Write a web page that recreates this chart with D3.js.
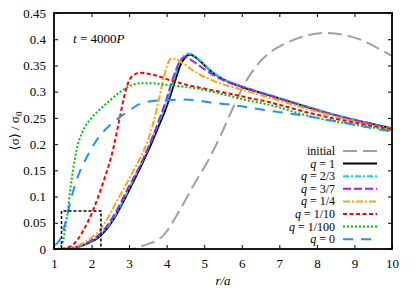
<!DOCTYPE html>
<html>
<head>
<meta charset="utf-8">
<script src="https://cdn.jsdelivr.net/npm/d3@7"></script>
<style>
  body { margin: 0; background: #fff; }
  svg text { font-family: "Liberation Serif", "Times New Roman", "DejaVu Serif", serif; }
</style>
</head>
<body>
<script>
// values: [r/a, <sigma>/sigma0]
var initial = [[2.8, 0], [3.0, 0.0], [3.4, 0.007], [3.9, 0.025], [4.35, 0.074], [4.75, 0.126],
  [5.07, 0.164], [5.42, 0.214], [5.74, 0.265], [6.09, 0.317], [6.4, 0.35], [6.7, 0.372],
  [7.0, 0.386], [7.5, 0.402], [8.2, 0.412], [8.8, 0.407], [9.2, 0.398], [9.7, 0.38], [10, 0.368]];

var q1 = [[1.3, 0], [1.6, 0.003], [1.8, 0.008], [2.0, 0.014], [2.2, 0.023], [2.4, 0.038],
  [2.6, 0.058], [2.8, 0.084], [3.0, 0.112], [3.25, 0.148], [3.5, 0.186], [3.75, 0.228],
  [4.0, 0.272], [4.2, 0.315], [4.35, 0.348], [4.5, 0.366], [4.62, 0.371], [4.8, 0.364],
  [5.0, 0.351], [5.2, 0.338], [5.4, 0.328], [5.7, 0.317], [6.0, 0.309], [6.5, 0.298],
  [7.0, 0.287], [7.5, 0.276], [8.0, 0.265], [8.5, 0.255], [9.0, 0.246], [9.5, 0.238], [10, 0.23]];

var q23 = [[1.3, 0], [1.6, 0.003], [1.8, 0.008], [2.0, 0.015], [2.2, 0.025], [2.4, 0.04],
  [2.6, 0.061], [2.8, 0.087], [3.0, 0.116], [3.25, 0.152], [3.5, 0.191], [3.75, 0.234],
  [4.0, 0.28], [4.18, 0.32], [4.32, 0.352], [4.46, 0.368], [4.58, 0.373], [4.8, 0.365],
  [5.0, 0.352], [5.2, 0.339], [5.4, 0.329], [5.7, 0.318], [6.0, 0.31], [6.5, 0.299],
  [7.0, 0.288], [7.5, 0.277], [8.0, 0.266], [8.5, 0.256], [9.0, 0.247], [9.5, 0.238], [10, 0.23]];

var q37 = [[1.3, 0], [1.6, 0.004], [1.8, 0.009], [2.0, 0.017], [2.3, 0.034], [2.6, 0.065],
  [3.0, 0.12], [3.25, 0.153], [3.5, 0.192], [3.75, 0.237], [4.0, 0.287], [4.2, 0.332],
  [4.35, 0.358], [4.49, 0.366], [4.7, 0.358], [4.9, 0.348], [5.15, 0.336], [5.5, 0.322],
  [5.95, 0.311], [6.5, 0.298], [7.0, 0.287], [7.5, 0.276], [8.0, 0.265], [9.0, 0.246], [10, 0.229]];

var q14 = [[1.3, 0], [1.6, 0.005], [1.8, 0.012], [2.0, 0.022], [2.22, 0.036], [2.44, 0.06],
  [2.7, 0.095], [2.9, 0.12], [3.1, 0.147], [3.3, 0.174], [3.5, 0.207], [3.65, 0.242],
  [3.8, 0.287], [3.92, 0.326], [4.02, 0.352], [4.12, 0.363], [4.22, 0.363], [4.43, 0.354],
  [4.8, 0.336], [5.34, 0.318], [5.95, 0.305], [6.67, 0.29], [7.0, 0.283], [8.0, 0.262],
  [9.0, 0.243], [10, 0.228]];

var q110 = [[1.2, 0], [1.5, 0.008], [1.77, 0.034], [2.04, 0.074], [2.3, 0.125], [2.57, 0.189],
  [2.75, 0.25], [2.9, 0.3], [3.05, 0.327], [3.29, 0.336], [3.6, 0.333], [4.17, 0.32],
  [4.6, 0.312], [5.0, 0.306], [5.69, 0.296], [6.2, 0.288], [6.67, 0.281], [7.0, 0.275],
  [7.5, 0.265], [8.0, 0.256], [9.0, 0.241], [10, 0.228]];

var q1100 = [[1.1, 0], [1.2, 0.007], [1.25, 0.018], [1.3, 0.04], [1.37, 0.074], [1.43, 0.112],
  [1.5, 0.147], [1.6, 0.189], [1.75, 0.222], [2.0, 0.25], [2.25, 0.268], [2.5, 0.284],
  [2.75, 0.299], [3.02, 0.311], [3.3, 0.316], [3.6, 0.316], [4.0, 0.313], [4.8, 0.306],
  [5.5, 0.295], [6.0, 0.286], [6.67, 0.276], [7.0, 0.27], [7.55, 0.258], [8.0, 0.25],
  [9.0, 0.237], [10, 0.226]];

var q0 = [[1.0, 0.007], [1.1, 0.012], [1.2, 0.025], [1.3, 0.05], [1.43, 0.088], [1.55, 0.12],
  [1.7, 0.15], [1.85, 0.172], [2.0, 0.192], [2.2, 0.214], [2.5, 0.237], [2.8, 0.254],
  [3.02, 0.265], [3.3, 0.277], [3.9, 0.284], [4.5, 0.285], [5.2, 0.279], [5.6, 0.276],
  [6.0, 0.272], [6.6, 0.265], [7.0, 0.261], [7.5, 0.256], [8.0, 0.25], [8.5, 0.244],
  [9.0, 0.237], [9.5, 0.23], [10, 0.224]];

// zoom box marker
var box = [[1.2, 0], [1.2, 0.0725], [2.25, 0.0725], [2.25, 0]];

var xTicks = [1, 2, 3, 4, 5, 6, 7, 8, 9, 10];
var yTicks = [0, 0.05, 0.1, 0.15, 0.2, 0.25, 0.3, 0.35, 0.4, 0.45];

var seriesList = [
  {name: "initial", q: false, data: initial, color: "#a0a0a0", dash: "14,6"},
  {name: "1", q: true, data: q1, color: "#000000", dash: null},
  {name: "2/3", q: true, data: q23, color: "#00dede", dash: "6,2,2,2"},
  {name: "3/7", q: true, data: q37, color: "#a020f0", dash: "8,3"},
  {name: "1/4", q: true, data: q14, color: "#ffa500", dash: "7,2,2,2"},
  {name: "1/10", q: true, data: q110, color: "#ff0000", dash: "4,2.5"},
  {name: "1/100", q: true, data: q1100, color: "#00c000", dash: "2,2"},
  {name: "0", q: true, data: q0, color: "#1e90ff", dash: "10,8"}
];

var serif = "'Liberation Serif', 'Times New Roman', 'DejaVu Serif', serif";

function draw() {
  var width = 415, height = 290;
  var m = {left: 54, right: 23, top: 13, bottom: 41};

  var svg = d3.select("body").append("svg")
      .attr("width", width)
      .attr("height", height);

  var x = d3.scaleLinear().domain([1, 10]).range([m.left, width - m.right]);
  var y = d3.scaleLinear().domain([0, 0.45]).range([height - m.bottom, m.top]);

  svg.append("clipPath").attr("id", "clip")
    .append("rect")
      .attr("x", m.left).attr("y", m.top)
      .attr("width", width - m.left - m.right)
      .attr("height", height - m.top - m.bottom);

  var line = d3.line()
      .x(function(d) { return x(d[0]); })
      .y(function(d) { return y(d[1]); })
      .curve(d3.curveMonotoneX);

  var plot = svg.append("g").attr("clip-path", "url(#clip)");

  plot.selectAll("path.series")
    .data(seriesList)
    .enter()
    .append("path")
      .attr("class", "series")
      .attr("d", function(d) { return line(d.data); })
      .attr("fill", "none")
      .attr("stroke", function(d) { return d.color; })
      .attr("stroke-width", 2)
      .attr("stroke-dasharray", function(d) { return d.dash; });

  plot.append("path")
      .attr("d", d3.line().x(function(d) { return x(d[0]); }).y(function(d) { return y(d[1]); })(box))
      .attr("fill", "none")
      .attr("stroke", "#000")
      .attr("stroke-width", 1.5)
      .attr("stroke-dasharray", "3,2");

  // axes, gnuplot style with inward ticks on all sides
  var tick = 4;
  svg.append("g")
      .attr("transform", "translate(0," + y(0) + ")")
      .call(d3.axisBottom(x).tickValues(xTicks).tickSizeInner(-tick).tickSizeOuter(0).tickPadding(10)
        .tickFormat(d3.format("d")));
  svg.append("g")
      .attr("transform", "translate(0," + y(0.45) + ")")
      .call(d3.axisTop(x).tickValues(xTicks).tickSizeInner(-tick).tickSizeOuter(0).tickFormat(""));
  svg.append("g")
      .attr("transform", "translate(" + x(1) + ",0)")
      .call(d3.axisLeft(y).tickValues(yTicks).tickSizeInner(-tick).tickSizeOuter(0).tickPadding(8)
        .tickFormat(function(d) { return d === 0 ? "0" : d3.format("~g")(d); }));
  svg.append("g")
      .attr("transform", "translate(" + x(10) + ",0)")
      .call(d3.axisRight(y).tickValues(yTicks).tickSizeInner(-tick).tickSizeOuter(0).tickFormat(""));

  svg.selectAll(".domain").remove();
  svg.selectAll(".tick line").attr("stroke", "#000").attr("stroke-width", 1);
  svg.selectAll(".tick text")
      .style("font-family", serif)
      .style("font-size", "13px")
      .attr("fill", "#000");

  svg.append("rect")
      .attr("x", x(1)).attr("y", y(0.45))
      .attr("width", x(10) - x(1)).attr("height", y(0) - y(0.45))
      .attr("fill", "none")
      .attr("stroke", "#000")
      .attr("stroke-width", 1.8);

  // annotation
  var t = svg.append("text")
      .attr("x", 73).attr("y", 43)
      .style("font-family", serif)
      .style("font-size", "13px");
  t.append("tspan").attr("font-style", "italic").text("t");
  t.append("tspan").text(" = 4000");
  t.append("tspan").attr("font-style", "italic").text("P");

  // axis titles
  svg.append("text")
      .attr("x", (x(1) + x(10)) / 2).attr("y", 285)
      .attr("text-anchor", "middle")
      .style("font-family", serif)
      .style("font-size", "13px")
      .attr("font-style", "italic")
      .text("r/a");

  var yl = svg.append("text")
      .attr("transform", "translate(19," + ((y(0) + y(0.45)) / 2) + ") rotate(-90)")
      .attr("text-anchor", "middle")
      .style("font-family", serif)
      .style("font-size", "13px");
  yl.append("tspan").text("\u27e8\u03c3\u27e9 / \u03c3");
  yl.append("tspan").style("font-size", "9px").attr("dy", 3).text("0");

  // legend
  var legend = svg.append("g");
  seriesList.forEach(function(s, i) {
    var ly = 151 + i * 12.6;
    var lt = legend.append("text")
        .attr("x", 335).attr("y", ly + 4)
        .attr("text-anchor", "end")
        .style("font-family", serif)
        .style("font-size", "12px");
    if (s.q) {
      lt.append("tspan").attr("font-style", "italic").text("q");
      lt.append("tspan").text(" = " + s.name);
    } else {
      lt.text(s.name);
    }
    legend.append("line")
        .attr("x1", 343).attr("x2", 377)
        .attr("y1", ly).attr("y2", ly)
        .attr("stroke", s.color)
        .attr("stroke-width", 2)
        .attr("stroke-dasharray", s.dash);
  });
}

document.addEventListener("DOMContentLoaded", draw);
</script>
</body>
</html>
